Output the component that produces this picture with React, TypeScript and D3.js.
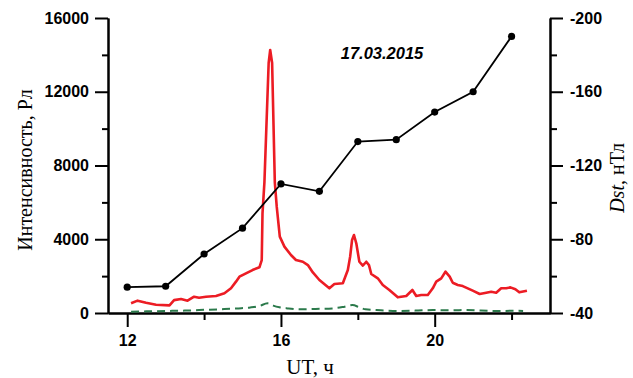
import React, { useRef, useEffect } from "react";
import * as d3 from "d3";

// Dst index, hourly (right axis)
const dstHours = [12, 13, 14, 15, 16, 17, 18, 19, 20, 21, 22];
const dstValues = [-54, -54.5, -72, -86, -110, -106, -133, -134, -149, -160, -190];

// red line: intensity, Rayleigh
const redT = [
  12.1, 12.27, 12.49, 12.75, 13.1, 13.22, 13.4, 13.57, 13.74, 13.87, 14.05, 14.31, 14.53, 14.7,
  14.83, 14.92, 15.09, 15.26, 15.44, 15.5, 15.52, 15.57, 15.68, 15.72, 15.77, 15.84, 15.89, 15.97,
  16.09, 16.26, 16.39, 16.57, 16.7, 16.83, 17.0, 17.26, 17.39, 17.61, 17.74, 17.8, 17.85, 17.9,
  17.96, 18.04, 18.13, 18.22, 18.29, 18.35, 18.52, 18.65, 18.82, 19.04, 19.26, 19.42, 19.52, 19.65,
  19.82, 19.95, 20.04, 20.17, 20.28, 20.39, 20.47, 20.6, 20.73, 20.99, 21.17, 21.34, 21.47, 21.6,
  21.73, 21.86, 21.97, 22.1, 22.2, 22.4,
];
const redI = [
  525, 670, 560, 450, 415, 700, 760, 670, 885, 830, 885, 920, 1070, 1340,
  1700, 1970, 2150, 2330, 2480, 2870, 5420, 7100, 13560, 14265, 13560, 7100, 5765, 4140,
  3600, 3146, 2875, 2780, 2600, 2200, 1790, 1340, 1570, 1610, 2330, 3050, 3960, 4230,
  3780, 2780, 2570, 2780, 2600, 2115, 1880, 1520, 1250, 850, 920, 1250, 920, 975,
  975, 1340, 1700, 1880, 2240, 1970, 1640, 1520, 1460, 1210, 1030, 1100, 1155, 1100,
  1340, 1340, 1390, 1285, 1120, 1210,
];

// green dashed line
const greenT = [
  12.1, 12.5, 13, 13.5, 13.87, 14.4, 14.9, 15.2, 15.44, 15.65, 15.8, 15.96, 16.2, 16.48, 16.9,
  17.34, 17.6, 17.86, 18.05, 18.2, 18.6, 19.08, 19.5, 19.95, 20.4, 20.82, 21.2, 21.69, 22.0, 22.3,
];
const greenI = [
  70, 90, 110, 130, 160, 200, 250, 300, 380, 525, 400, 310, 250, 200, 220,
  250, 320, 430, 300, 200, 150, 110, 130, 160, 150, 160, 130, 110, 120, 110,
];

const xMajor = [12, 16, 20];
const xMinor = [14, 18, 22];
const yLeftMajor = [0, 4000, 8000, 12000, 16000];
const yLeftMinor = [2000, 6000, 10000, 14000];
const yRightMajor = [-40, -80, -120, -160, -200];
const yRightMinor = [-60, -100, -140, -180];

const App = () => {
  const ref = useRef<SVGSVGElement>(null);

  useEffect(() => {
    const svg = d3.select(ref.current);
    svg.selectAll("*").remove();

    const x = d3.scaleLinear().domain([11.5, 23]).range([108, 550]);
    const yL = d3.scaleLinear().domain([0, 16000]).range([313, 18]);
    const yR = d3.scaleLinear().domain([-40, -200]).range([313, 18]);

    const tickFont = "'Liberation Sans', Arial, sans-serif";
    const plain = (d: any) => String(d); // keep ascii hyphen for negatives

    const styleAxis = (g: any) => {
      g.select(".domain").attr("stroke", "#000").attr("stroke-width", 2);
      g.selectAll(".tick line").attr("stroke", "#000").attr("stroke-width", 2);
      g.selectAll(".tick text")
        .attr("font-family", tickFont)
        .attr("font-weight", "bold")
        .attr("font-size", 16)
        .attr("fill", "#000");
    };

    // minor ticks first (no labels)
    svg.append("g")
      .attr("transform", "translate(0,313)")
      .call(d3.axisBottom(x).tickValues(xMinor).tickSize(7).tickSizeOuter(0).tickFormat(() => ""))
      .call(styleAxis);
    svg.append("g")
      .attr("transform", "translate(0,313)")
      .call(d3.axisBottom(x).tickValues(xMajor).tickSize(14).tickSizeOuter(0).tickPadding(8).tickFormat(plain))
      .call(styleAxis);

    svg.append("g")
      .attr("transform", "translate(108,0)")
      .call(d3.axisLeft(yL).tickValues(yLeftMinor).tickSize(6).tickSizeOuter(0).tickFormat(() => ""))
      .call(styleAxis);
    svg.append("g")
      .attr("transform", "translate(108,0)")
      .call(d3.axisLeft(yL).tickValues(yLeftMajor).tickSize(13).tickSizeOuter(0).tickPadding(6).tickFormat(plain))
      .call(styleAxis);

    svg.append("g")
      .attr("transform", "translate(550,0)")
      .call(d3.axisRight(yR).tickValues(yRightMinor).tickSize(7).tickSizeOuter(0).tickFormat(() => ""))
      .call(styleAxis);
    svg.append("g")
      .attr("transform", "translate(550,0)")
      .call(d3.axisRight(yR).tickValues(yRightMajor).tickSize(13).tickSizeOuter(0).tickPadding(7).tickFormat(plain))
      .call(styleAxis);

    // green dashed
    const greenLine = d3.line<number>().x((d, i) => x(greenT[i])).y((d) => yL(d)).curve(d3.curveMonotoneX);
    svg.append("path")
      .attr("d", greenLine(greenI))
      .attr("fill", "none")
      .attr("stroke", "#2b7a4b")
      .attr("stroke-width", 2)
      .attr("stroke-dasharray", "8,5");

    // red intensity
    const redLine = d3.line<number>().x((d, i) => x(redT[i])).y((d) => yL(d));
    svg.append("path")
      .attr("d", redLine(redI))
      .attr("fill", "none")
      .attr("stroke", "#ec1c24")
      .attr("stroke-width", 2.6)
      .attr("stroke-linejoin", "round");

    // Dst
    const dstLine = d3.line<number>().x((d, i) => x(dstHours[i])).y((d) => yR(d));
    svg.append("path")
      .attr("d", dstLine(dstValues))
      .attr("fill", "none")
      .attr("stroke", "#000")
      .attr("stroke-width", 1.8);
    svg.append("g")
      .selectAll("circle")
      .data(dstValues)
      .enter()
      .append("circle")
      .attr("cx", (d, i) => x(dstHours[i]))
      .attr("cy", (d) => yR(d))
      .attr("r", 3.6)
      .attr("fill", "#000");

    // title
    svg.append("text")
      .attr("x", 382)
      .attr("y", 59)
      .attr("text-anchor", "middle")
      .attr("font-family", tickFont)
      .attr("font-weight", "bold")
      .attr("font-style", "italic")
      .attr("font-size", 16.5)
      .text("17.03.2015");

    const serif = "'Liberation Serif', 'Times New Roman', serif";

    svg.append("text")
      .attr("transform", "translate(32,170) rotate(-90)")
      .attr("text-anchor", "middle")
      .attr("font-family", serif)
      .attr("font-size", 20)
      .text("Интенсивность, Рл");

    const rl = svg.append("text")
      .attr("transform", "translate(624,178) rotate(-90)")
      .attr("text-anchor", "middle")
      .attr("font-family", serif)
      .attr("font-size", 20);
    rl.append("tspan").attr("font-style", "italic").text("Dst");
    rl.append("tspan").text(", нТл");

    svg.append("text")
      .attr("x", 310)
      .attr("y", 374)
      .attr("text-anchor", "middle")
      .attr("font-family", serif)
      .attr("font-size", 21)
      .text("UT, ч");
  }, []);

  return (
    <svg
      ref={ref}
      width={633}
      height={378}
      style={{ position: "absolute", left: 0, top: 0, background: "#fff" }}
    ></svg>
  );
};

export default App;
